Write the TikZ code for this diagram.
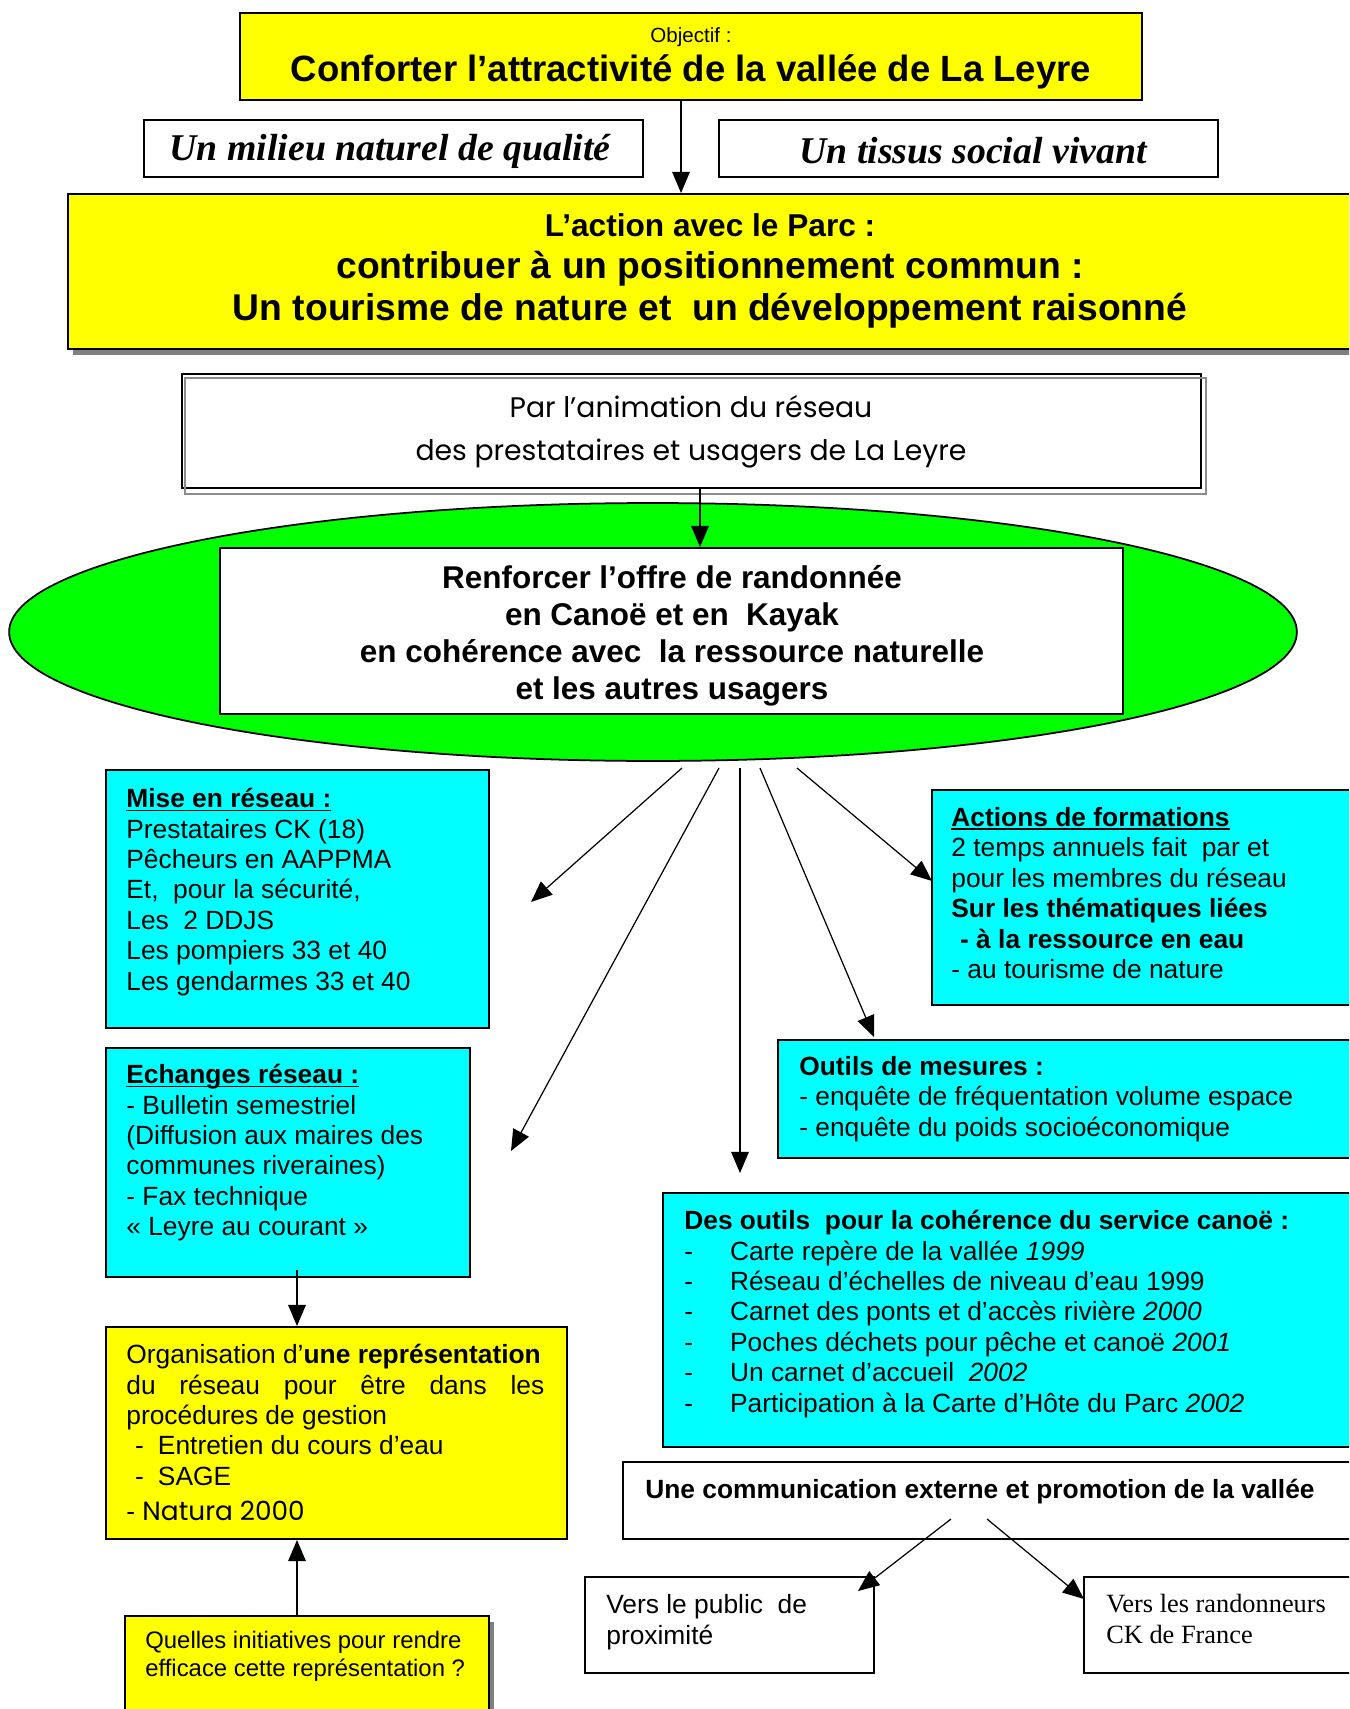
\documentclass[tikz,border=0pt]{standalone}
\usepackage{fontspec}
\setmainfont{Liberation Sans}
\newfontfamily\serifit{Liberation Serif}
\newfontfamily\comic{Poppins}
\usetikzlibrary{arrows.meta,shapes.geometric,fit,shadows}
\definecolor{jaune}{RGB}{255,255,0}
\definecolor{turquoise}{RGB}{0,255,255}
\definecolor{vert}{RGB}{0,255,0}
\newcommand\tiret{\makebox[26pt][l]{-}}
\newcommand\souligne[1]{\setbox0\hbox{#1}\rlap{\rule[-2pt]{\wd0}{0.9pt}}\box0}
\begin{document}
\begin{tikzpicture}[x=0.02cm, y=-0.02cm,
  box/.style={draw, line width=1.1pt, inner sep=0pt},
  jbox/.style={box, fill=jaune},
  cbox/.style={box, fill=turquoise},
  txt/.style={anchor=north west, align=left, inner sep=0pt, font=\fontsize{15}{17.3}\selectfont},
  titre/.style={inner sep=0pt, font=\serifit\bfseries\itshape\fontsize{21.5}{24}\selectfont},
  ombre/.style={drop shadow={shadow xshift=0.1cm, shadow yshift=-0.12cm, fill=black!50, opacity=1}},
  arrow/.style={-{Triangle[length=12pt,width=10pt]}, line width=0.7pt}
]
\useasboundingbox (0,0) rectangle (1349,1709);
\clip (0,0) rectangle (1349,1709);

\node[jbox, fit={(240,13) (1142,100)}] (obj) {};
\node[font=\fontsize{11.7}{14}\selectfont, inner sep=0pt] (objlbl) at (691,37) {Objectif :};
\node[font=\bfseries\fontsize{20.8}{23}\selectfont, inner sep=0pt] (objtxt) at (691,72) {Conforter l’attractivité de la vallée de La Leyre};
\node[box, fit={(144,120) (643,177)}] (milieu) {};
\node[titre] (milieutxt) at (390,151) {Un milieu naturel de qualité};
\node[box, fit={(719,120) (1218,177)}] (social) {};
\node[titre] (socialtxt) at (973,151) {Un tissus social vivant};

\node[jbox, ombre, fit={(68,194) (1380,349)}] (action) {};
\node[align=center, font=\bfseries\fontsize{21.2}{23.8}\selectfont] (actiontxt) at (710,271)
  {{\fontsize{18}{23.8}\selectfont L’action avec le Parc :}\\contribuer à un positionnement commun :\\Un tourisme de nature et\ \ un développement raisonné};
\draw[arrow] ([xshift=-0.2cm]obj.south) -- ([xshift=-0.2cm]obj.south |- action.north);

\node[box, fill=white, fit={(182,374) (1201,488)}] (par) {};
\draw[black!45, line width=1pt] ([shift={(0.08cm,-0.1cm)}]par.north west) rectangle ([shift={(0.08cm,-0.1cm)}]par.south east);
\node[align=center, font=\comic\fontsize{16.1}{24.7}\selectfont] (partxt) at (691,432)
  {Par l’animation du réseau\\des prestataires et usagers de La Leyre};

\node[ellipse, draw, line width=1pt, fill=vert, minimum width=25.76cm, minimum height=5.16cm] (oval) at (653,632) {};
\node[box, fill=white, fit={(220,548) (1123,714)}] (renf) {};
\node[align=center, font=\bfseries\fontsize{17.9}{21}\selectfont] (renftxt) at (672,636)
  {Renforcer l’offre de randonnée\\en Canoë et en\ \ Kayak\\en cohérence avec\ \ la ressource naturelle\\et les autres usagers};
\draw[arrow] ([xshift=0.17cm]par.south) -- ([xshift=0.17cm]par.south |- renf.north);

\node[cbox, fit={(106,770) (489,1028)}] (mise) {};
\node[txt] (misetxt) at (126,788)
  {\souligne{\textbf{Mise en réseau :}}\\Prestataires CK (18)\\Pêcheurs en AAPPMA\\Et,\ \ pour la sécurité,\\Les\ \ 2 DDJS\\Les pompiers 33 et 40\\Les gendarmes 33 et 40};

\node[cbox, fit={(932,790) (1380,1005)}] (form) {};
\node[txt] (formtxt) at (951,807)
  {\souligne{\textbf{Actions de formations}}\\2 temps annuels fait\ \ par et\\pour les membres du réseau\\\textbf{Sur les thématiques liées}\\\hspace*{5pt}\textbf{- à la ressource en eau}\\- au tourisme de nature};

\node[cbox, fit={(106,1048) (470,1277)}] (ech) {};
\node[txt] (echtxt) at (126,1064)
  {\souligne{\textbf{Echanges réseau :}}\\- Bulletin semestriel\\(Diffusion aux maires des\\communes riveraines)\\- Fax technique\\«~Leyre au courant~»};

\node[cbox, fit={(778,1040) (1380,1158)}] (mesure) {};
\node[txt] (mesuretxt) at (799,1056)
  {\textbf{Outils de mesures :}\\- enquête de fréquentation volume espace\\- enquête du poids socioéconomique};

\node[cbox, fit={(663,1193) (1380,1447)}] (coh) {};
\node[txt] (cohtxt) at (684,1210)
  {\textbf{Des outils\ \ pour la cohérence du service canoë :}\\
   \tiret Carte repère de la vallée \textit{1999}\\
   \tiret Réseau d’échelles de niveau d’eau 1999\\
   \tiret Carnet des ponts et d’accès rivière \textit{2000}\\
   \tiret Poches déchets pour pêche et canoë \textit{2001}\\
   \tiret Un carnet d’accueil\ \ \textit{2002}\\
   \tiret Participation à la Carte d’Hôte du Parc \textit{2002}};

\node[jbox, fit={(106,1327) (567,1539)}] (orga) {};
\node[txt] (orgatxt) at (126,1344)
  {Organisation d’\textbf{une représentation}\\\makebox[8.36cm][l]{du\hfill réseau\hfill pour\hfill être\hfill dans\hfill les}\\procédures de gestion\\
   \hspace*{5pt}-\hspace{8pt}Entretien du cours d’eau\\\hspace*{5pt}-\hspace{8pt}SAGE\\[3pt]-\ {\comic Natura 2000}};
\draw[arrow] ([shift={(9,-8)}]ech.south) -- ([shift={(9,0)}]ech.south |- orga.north);

\node[jbox, ombre, fit={(125,1616) (489,1730)}] (quel) {};
\node[txt, font=\fontsize{13.6}{16}\selectfont] (queltxt) at (145,1631)
  {Quelles initiatives pour rendre\\efficace cette représentation ?};
\draw[arrow] ([xshift=-0.2cm]quel.north) -- ([xshift=-0.2cm]quel.north |- orga.south);

\node[box, fill=white, fit={(623,1462) (1380,1539)}] (comm) {};
\node[txt, font=\bfseries\fontsize{15}{17.3}\selectfont] (commtxt) at (645,1479)
  {Une communication externe et promotion de la vallée};
\node[box, fit={(585,1577) (874,1673)}] (pub) {};
\node[txt, font=\fontsize{15}{17.6}\selectfont] (pubtxt) at (606,1594) {Vers le public\ \ de\\proximité};
\node[box, fit={(1084,1577) (1380,1673)}] (rand) {};
\node[txt, font=\serifit\fontsize{15}{17.6}\selectfont] (randtxt) at (1106,1594) {Vers les randonneurs\\CK de France};

\coordinate (d1) at (682,768);
\coordinate (d2) at (719,768);
\coordinate (d3) at (740,768);
\coordinate (d4) at (760,768);
\coordinate (d5) at (797,768);
\coordinate (f1) at (531,902);
\coordinate (f2) at (511,1151);
\coordinate (f3) at (740,1173);
\coordinate (f4) at (874,1037);
\coordinate (f5) at (932,881);
\foreach \i in {1,...,5} \draw[arrow] (d\i) -- (f\i);

\coordinate (c1) at (951,1519);
\coordinate (c2) at (987,1519);
\coordinate (p1) at (858,1591);
\coordinate (r1) at (1084,1599);
\draw[arrow] (c1) -- (p1);
\draw[arrow] (c2) -- (r1);
\end{tikzpicture}
\end{document}
